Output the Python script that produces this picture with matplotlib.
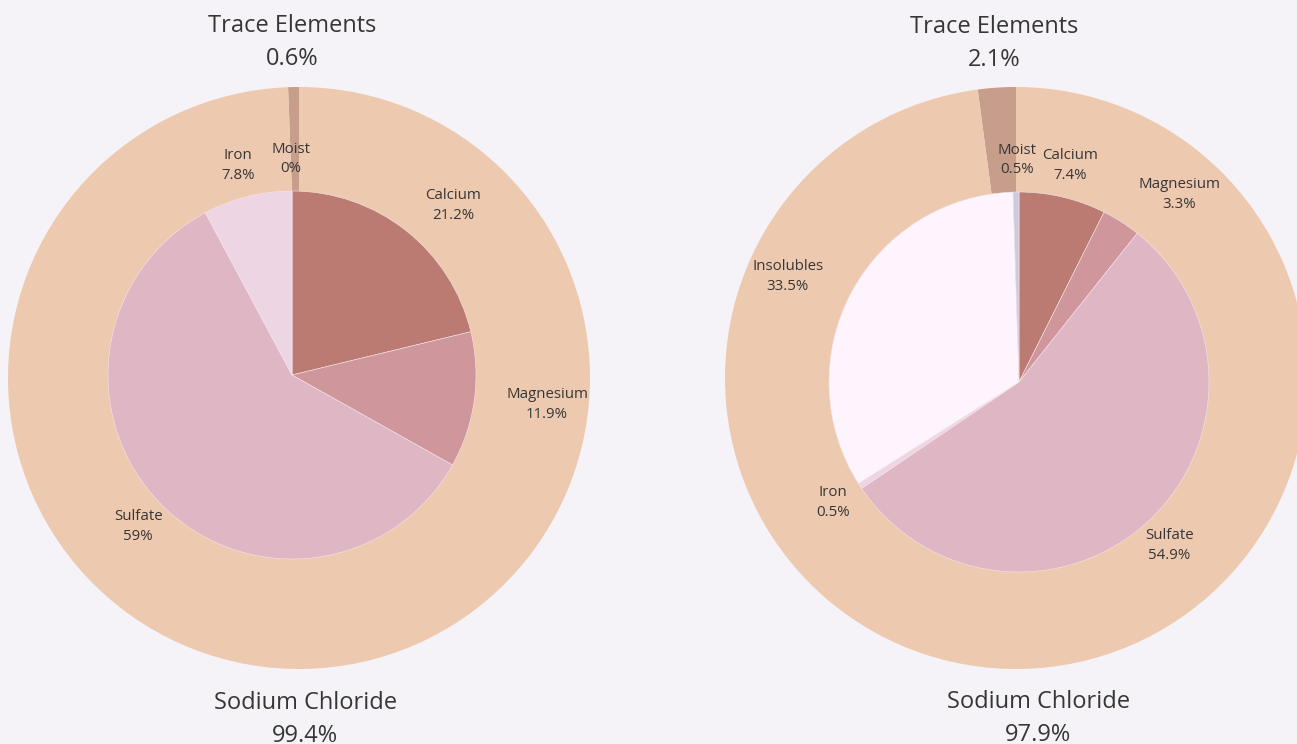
import numpy as np
import matplotlib.pyplot as plt

plt.rcParams['font.family'] = ['Open Sans', 'DejaVu Sans']

# outer ring: sodium chloride vs trace elements
outer_labels = ['Trace Elements', 'Sodium Chloride']
outer_left = [0.6, 99.4]
outer_right = [2.1, 97.9]

# inner pie: composition of the trace elements
inner_labels_left = ['Calcium', 'Magnesium', 'Sulfate', 'Iron', 'Moist']
inner_left = [21.2, 11.9, 59.0, 7.8, 0.0]
inner_labels_right = ['Calcium', 'Magnesium', 'Sulfate', 'Iron', 'Insolubles', 'Moist']
inner_right = [7.4, 3.3, 54.9, 0.5, 33.5, 0.5]

outer_colors = ['#c69e8b', '#edc9b0']
inner_colors = {'Calcium': '#bb7b73', 'Magnesium': '#cf979b', 'Sulfate': '#dfb6c4',
                'Iron': '#eed5e4', 'Insolubles': '#fdf4fd', 'Moist': '#cfc9d9'}
bg = '#f5f3f7'
txt = '#363636'

W, H = 1297, 744
fig = plt.figure(figsize=(W / 100, H / 100), dpi=100, facecolor=bg)
ax = fig.add_axes([0, 0, 1, 1])
ax.set_facecolor(bg)


def fmt(v):
    s = '{:.1f}'.format(v)
    return s[:-2] if s.endswith('.0') else s


def donut(cx, cy, r_out, icx, icy, r_in, outer, inner, inner_labels, side_anchor):
    # outer full pie (inner one drawn on top of it)
    ax.pie(outer, colors=outer_colors, startangle=90, counterclock=True,
           radius=r_out, center=(cx, cy), wedgeprops=dict(linewidth=0))
    start = 90.0
    for lab, v in zip(outer_labels, outer):
        mid = np.deg2rad(start + v / 100 * 360 / 2)
        start += v / 100 * 360
        d = r_out * 1.162
        ax.text(cx + d * np.cos(mid), cy + d * np.sin(mid) - 3, lab + '\n' + fmt(v) + '%',
                ha='center', va='center', fontsize=17, color=txt, linespacing=1.5)

    cols = [inner_colors[k] for k in inner_labels]
    ax.pie(inner, colors=cols, startangle=90, counterclock=False,
           radius=r_in, center=(icx, icy), wedgeprops=dict(linewidth=0.4, edgecolor='#f3e6ea'))
    start = 90.0
    for lab, v, side in zip(inner_labels, inner, side_anchor):
        mid = np.deg2rad(start - v / 100 * 360 / 2)
        start -= v / 100 * 360
        d = r_in + 32
        x, y = icx + d * np.cos(mid), icy + d * np.sin(mid)
        ha = 'center'
        if side:
            ha = 'left' if np.cos(mid) > 0 else 'right'
        ax.text(x, y, lab + '\n' + fmt(v) + '%', ha=ha, va='center', multialignment='center',
                fontsize=10.8, color=txt, linespacing=1.45)


donut(299, H - 378, 291, 292, H - 375, 184, outer_left, inner_left,
      inner_labels_left, [1, 1, 0, 0, 0])
donut(1016, H - 378, 291, 1019, H - 382, 190, outer_right, inner_right,
      inner_labels_right, [0, 1, 0, 0, 1, 0])

ax.set_xlim(0, W)
ax.set_ylim(0, H)
ax.set_aspect('equal')
ax.axis('off')

fig.savefig('out.png', dpi=100, facecolor=bg)
